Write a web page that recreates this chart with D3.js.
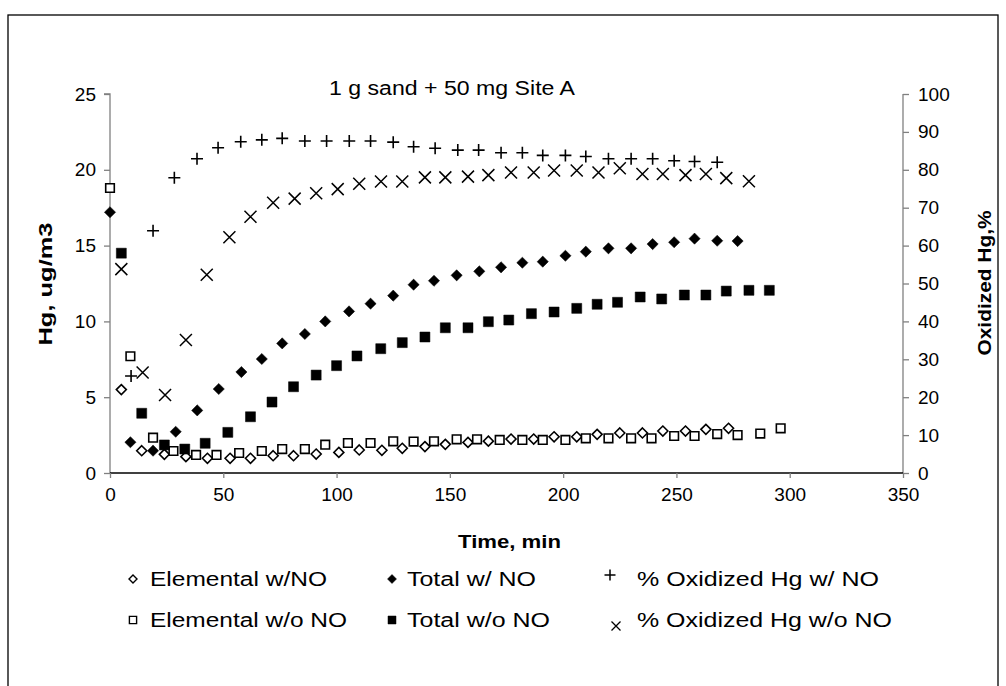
<!DOCTYPE html>
<html><head><meta charset="utf-8">
<script src="https://cdn.jsdelivr.net/npm/d3@7"></script>
<style>
body{margin:0;background:#fff}
text{font-family:"Liberation Sans",Arial,sans-serif;fill:#000}
</style>
</head><body>
<svg id="c" width="1006" height="686"></svg>
<script>
// ---- data ----
const chartTitle = "1 g sand + 50 mg Site A";
const xTicks = [0,50,100,150,200,250,300,350];
const yLeftTicks = [0,5,10,15,20,25];
const yRightTicks = [0,10,20,30,40,50,60,70,80,90,100];

const tElemNO = [5,14,24,33.5,43,53,62,72,81,91,101,110,120,129,139,148,158,167,177,187,196,206,215,225,235,244,254,263,273];
const vElemNO = [5.5,1.47,1.23,1.08,0.97,0.97,0.97,1.14,1.14,1.25,1.36,1.52,1.5,1.63,1.74,1.89,2.02,2.1,2.24,2.24,2.39,2.39,2.55,2.64,2.64,2.77,2.77,2.88,2.95];

const tElemWo = [0,9,19,28,38,47,57,67,76,86,95,105,115,125,134,143,153,162,172,182,191,201,210,220,230,239,249,258,268,277,287,296];
const vElemWo = [18.8,7.7,2.33,1.45,1.19,1.19,1.32,1.45,1.58,1.58,1.87,1.98,1.98,2.09,2.07,2.09,2.22,2.22,2.18,2.18,2.18,2.18,2.29,2.29,2.29,2.29,2.44,2.44,2.57,2.5,2.6,2.95];

const tTotNO = [0,9,19,29,38.5,48,58,67,76,86,95,105.5,115,125,134,143,153,163,172.6,182,191,201,210,220,230,239.5,249,258,268,277];
const vTotNO = [17.2,2.03,1.47,2.72,4.13,5.54,6.66,7.52,8.55,9.17,10.0,10.66,11.17,11.7,12.42,12.68,13.04,13.3,13.57,13.87,13.94,14.33,14.6,14.82,14.82,15.1,15.22,15.46,15.32,15.3];

const tTotWo = [5,14,24,33,42,52,62,71.5,81,91,100,109,119.5,129,139,148,158,167,176,186,196,206,215,224,234,243.5,253.5,263,272,282,291];
const vTotWo = [14.5,3.94,1.85,1.58,1.96,2.68,3.71,4.68,5.69,6.46,7.08,7.72,8.2,8.6,8.97,9.58,9.58,9.98,10.09,10.51,10.62,10.86,11.13,11.26,11.61,11.48,11.74,11.74,12.0,12.05,12.05];

const tOxNO = [9.3,19,28.4,38.4,47.7,57.7,67,76,86,95.6,105.6,115,125,134,143.5,153.5,162.7,172.6,182,191,201,210,220,230,239.5,249,258,268];
const vOxNO = [25.6,63.9,77.9,82.9,85.8,87.4,87.9,88.3,87.6,87.6,87.6,87.6,87.3,86.1,85.7,85.2,85.2,84.5,84.5,83.8,83.8,83.5,82.9,82.9,82.9,82.4,82.2,82.0];

const tOxWo = [5,14.4,24.3,33.5,42.7,52.7,62,72,81.5,91,100.5,110,119.6,129,139,148,158,167,177,187,196,206,215.6,225,235,244,254,263,272,282];
const vOxWo = [53.8,26.5,20.6,35.1,52.3,62.2,67.6,71.3,72.4,73.8,74.9,76.3,76.9,76.9,78.0,78.0,78.2,78.6,79.3,79.3,79.8,79.8,79.3,80.4,78.9,78.9,78.6,78.9,77.8,77.0];

const legendLabels = ["Elemental w/NO","Total w/ NO","% Oxidized Hg w/ NO","Elemental w/o NO","Total w/o NO","% Oxidized Hg w/o NO"];

// ---- drawing ----
const svg = d3.select("#c");
const x = d3.scaleLinear().domain([0,350]).range([110,903]);
const yL = d3.scaleLinear().domain([0,25]).range([473,94]);
const yR = d3.scaleLinear().domain([0,100]).range([473,94]);

// frame
svg.append("rect").attr("x",8).attr("y",15).attr("width",990).attr("height",720)
  .attr("fill","none").attr("stroke","#000").attr("stroke-width",1.3);

const shapes = {
  diamond: r => `M0,${-r}L${r},0L0,${r}L${-r},0Z`,
  square: s => `M${-s},${-s}H${s}V${s}H${-s}Z`,
  plus: s => `M${-s},0H${s}M0,${-s}V${s}`,
  cross: s => `M${-s},${-s}L${s},${s}M${s},${-s}L${-s},${s}`
};

// axes
const gL = svg.append("g").attr("transform","translate(110,0)")
  .call(d3.axisLeft(yL).tickValues(yLeftTicks).tickSize(6).tickPadding(8));
const gR = svg.append("g").attr("transform","translate(903,0)")
  .call(d3.axisRight(yR).tickValues(yRightTicks).tickSize(6).tickPadding(9));
const gB = svg.append("g").attr("transform","translate(0,473)")
  .call(d3.axisBottom(x).tickValues(xTicks).tickSize(5).tickPadding(10));
[gL,gR].forEach(g=>{
  g.select(".domain").attr("stroke","#808080").attr("stroke-width",1.3);
  g.selectAll(".tick line").attr("stroke","#808080").attr("stroke-width",1.3);
});
gB.select(".domain").attr("stroke","#000").attr("stroke-width",1.3);
gB.selectAll(".tick line").attr("stroke","#808080").attr("stroke-width",1.3);
[gL,gR,gB].forEach(g=>g.selectAll(".tick text").attr("font-size",19)
  .attr("font-family","Liberation Sans, Arial, sans-serif").attr("fill","#000"));
gL.select(".domain").attr("d","M-6,94H0V473");
gR.select(".domain").attr("d","M0,94V473");
gB.select(".domain").attr("d","M110,0H903");

// titles
svg.append("text").attr("x",329).attr("y",95).attr("font-size",19.5)
  .attr("textLength",246).attr("lengthAdjust","spacingAndGlyphs").text(chartTitle);
svg.append("text").attr("x",458).attr("y",548).attr("font-size",18).attr("font-weight","bold")
  .attr("textLength",103).attr("lengthAdjust","spacingAndGlyphs").text("Time, min");
svg.append("text").attr("transform","translate(52,284) rotate(-90)").attr("text-anchor","middle")
  .attr("font-size",18).attr("font-weight","bold")
  .attr("textLength",123).attr("lengthAdjust","spacingAndGlyphs").text("Hg, ug/m3");
svg.append("text").attr("transform","translate(991,283) rotate(-90)").attr("text-anchor","middle")
  .attr("font-size",18).attr("font-weight","bold")
  .attr("textLength",145).attr("lengthAdjust","spacingAndGlyphs").text("Oxidized Hg,%");

// series
function drawSeries(ts, vs, yScale, shape, size, fill, sw){
  svg.append("g").selectAll("path").data(ts.map((t,i)=>[t,vs[i]])).join("path")
    .attr("transform",d=>`translate(${x(d[0])},${yScale(d[1])})`)
    .attr("d",shapes[shape](size))
    .attr("fill",fill).attr("stroke","#000").attr("stroke-width",sw);
}
drawSeries(tElemNO,vElemNO,yL,"diamond",5,"#fff",1.6);
drawSeries(tElemWo,vElemWo,yL,"square",4.3,"#fff",1.6);
drawSeries(tTotNO,vTotNO,yL,"diamond",5.6,"#000",0.5);
drawSeries(tTotWo,vTotWo,yL,"square",5,"#000",0.5);
drawSeries(tOxNO,vOxNO,yR,"plus",6,"none",1.6);
drawSeries(tOxWo,vOxWo,yR,"cross",6,"none",1.5);

// legend
const legend = [
  {shape:"diamond",size:4,fill:"#fff",sw:1.4,mx:133,my:0,tx:150,tl:177},
  {shape:"diamond",size:4.5,fill:"#000",sw:0.5,mx:392,my:0,tx:407,tl:129},
  {shape:"plus",size:5.5,fill:"none",sw:1.5,mx:610,my:-4,tx:637,tl:242},
  {shape:"square",size:3.6,fill:"#fff",sw:1.4,mx:133,my:0,tx:150,tl:197},
  {shape:"square",size:4,fill:"#000",sw:0.5,mx:392,my:0,tx:407,tl:143},
  {shape:"cross",size:4.5,fill:"none",sw:1.3,mx:616,my:6,tx:637,tl:255}
];
const rowY = [586,627];
legend.forEach((l,i)=>{
  const yy = rowY[Math.floor(i/3)];
  svg.append("path").attr("transform",`translate(${l.mx},${yy-7+l.my})`)
    .attr("d",shapes[l.shape](l.size)).attr("fill",l.fill).attr("stroke","#000").attr("stroke-width",l.sw);
  svg.append("text").attr("x",l.tx).attr("y",yy).attr("font-size",20)
    .attr("textLength",l.tl).attr("lengthAdjust","spacingAndGlyphs").text(legendLabels[i]);
});
</script>
</body></html>
